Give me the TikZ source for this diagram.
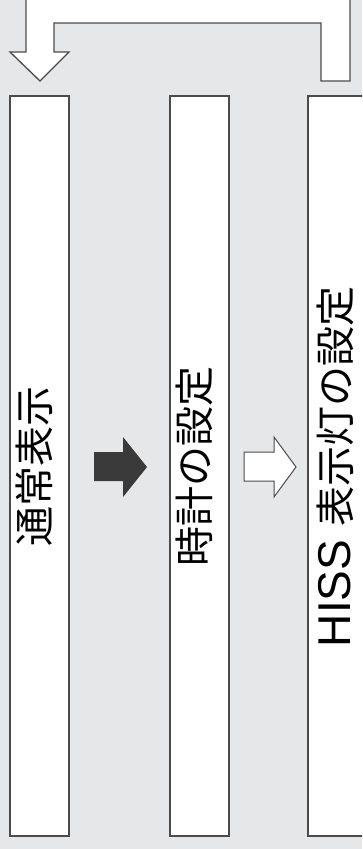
\documentclass[tikz,border=0pt]{standalone}
\usepackage{fontspec}
\usepackage{tikz}
\newfontfamily\jpfont{Noto Sans CJK JP}
\newfontfamily\latinfont{Liberation Sans}
\definecolor{bggray}{RGB}{230,231,233}
\definecolor{edgegray}{RGB}{75,75,75}
\definecolor{darkarrow}{RGB}{58,58,58}

\tikzset{
  stagebox/.style = {draw = edgegray, fill = white, line width = 1.3pt,
    inner sep = 0pt, minimum width = 59pt, minimum height = 740pt},
  stagetext/.style = {rotate = 90, inner sep = 0pt,
    font = \jpfont\fontsize{40}{48}\selectfont}
}

\begin{document}
\begin{tikzpicture}[x = 1pt, y = -1pt]
    \useasboundingbox (0, 0) rectangle (362, 849);
    \clip (0, 0) rectangle (362, 849);
    \fill[bggray] (0, 0) rectangle (362, 849);
    % the three stages
    {
      \node[stagebox] (normal) at (39.5, 466) {};
      \node[stagebox] (clock) at (199.5, 466) {};
      \node[stagebox, minimum width = 80pt] (hiss) at (348, 466) {};
    }
    {
      \node[stagetext] (normaltext) at (34.5, 466) {通常表示};
      \node[stagetext] (clocktext) at (194.5, 466) {時計の設定};
      \node[stagetext] (hisstext) at (335.5, 467)
        {{\latinfont\fontsize{46}{48}\selectfont HISS }表示灯の設定};
    }
    % block arrows between the stages
    \fill[darkarrow] (94, 452) -- (123, 452) -- (123, 437) -- (147, 467)
      -- (123, 497) -- (123, 481) -- (94, 481) -- cycle;
    \filldraw[fill = white, draw = edgegray, line width = 1pt]
      (244, 452) -- (274, 452) -- (274, 437) -- (296, 467)
      -- (274, 497) -- (274, 481) -- (244, 481) -- cycle;
    % way back to the first stage
    \filldraw[fill = white, draw = edgegray, line width = 1.3pt]
      (26, -5) -- (26, 52) -- (10, 52) -- (40, 81) -- (69, 52) -- (54, 52)
      -- (54, 23) -- (321, 23) -- (321, 81) -- (350, 81) -- (350, -5) -- cycle;
  \end{tikzpicture}
\end{document}
